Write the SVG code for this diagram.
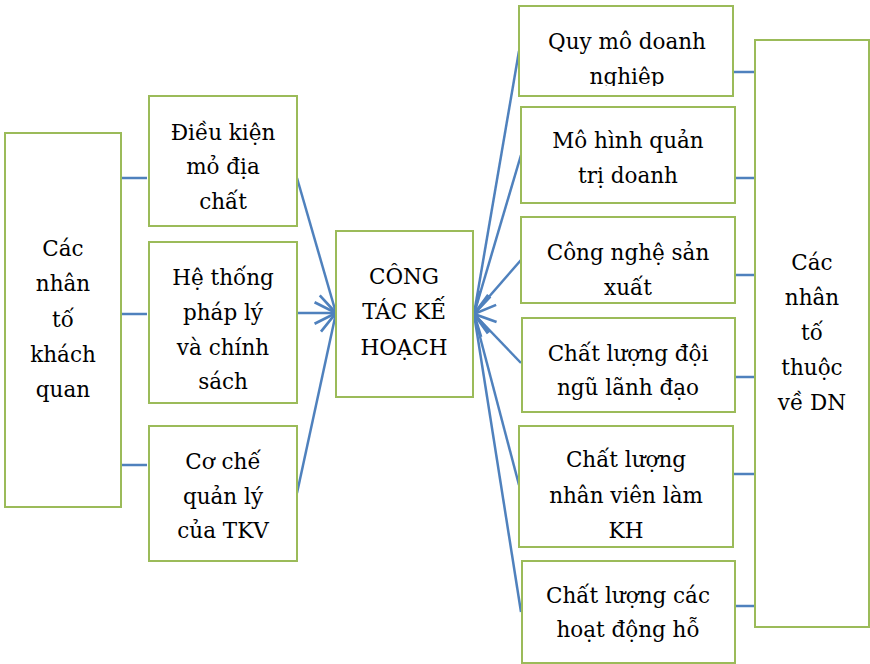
<svg xmlns="http://www.w3.org/2000/svg" width="870" height="664" viewBox="0 0 870 664">
<style>
.box{fill:#fff;stroke:#9BBB59;stroke-width:2}
.t{text-anchor:middle;fill:#000}
.c{stroke:#4F81BD;stroke-width:2.5;fill:none}
</style>
<defs>
<marker id="ah" markerUnits="userSpaceOnUse" markerWidth="30" markerHeight="30" viewBox="-24 -12 28 24" refX="0" refY="0" orient="auto" overflow="visible">
<path d="M-20,-10 L0,0 L-20,10" fill="none" stroke="#4F81BD" stroke-width="2.5"/>
</marker>
<clipPath id="c1"><rect x="519" y="6" width="214" height="80"/></clipPath>
<clipPath id="c3"><rect x="521" y="217" width="214" height="78"/></clipPath>
<clipPath id="c5"><rect x="519" y="426" width="214" height="112"/></clipPath>
</defs>
<rect width="870" height="664" fill="#fff"/>
<g id="connectors">
<line class="c" x1="121" y1="178" x2="147" y2="178"/>
<line class="c" x1="121" y1="314" x2="147" y2="314"/>
<line class="c" x1="121" y1="465" x2="147" y2="465"/>
<line class="c" x1="297" y1="178" x2="336" y2="313" marker-end="url(#ah)"/>
<line class="c" x1="297" y1="313" x2="336" y2="313" marker-end="url(#ah)"/>
<line class="c" x1="297" y1="493" x2="336" y2="313" marker-end="url(#ah)"/>
<line class="c" x1="519" y1="51" x2="474" y2="314" marker-end="url(#ah)"/>
<line class="c" x1="521" y1="155" x2="474" y2="314" marker-end="url(#ah)"/>
<line class="c" x1="521" y1="260" x2="474" y2="314" marker-end="url(#ah)"/>
<line class="c" x1="521" y1="363" x2="474" y2="314" marker-end="url(#ah)"/>
<line class="c" x1="519" y1="485" x2="474" y2="314" marker-end="url(#ah)"/>
<line class="c" x1="521" y1="612" x2="474" y2="314" marker-end="url(#ah)"/>
<line class="c" x1="733" y1="72" x2="755" y2="72"/>
<line class="c" x1="735" y1="178" x2="755" y2="178"/>
<line class="c" x1="735" y1="275" x2="755" y2="275"/>
<line class="c" x1="735" y1="377" x2="755" y2="377"/>
<line class="c" x1="733" y1="474" x2="755" y2="474"/>
<line class="c" x1="735" y1="606" x2="755" y2="606"/>
</g>
<g font-family="DejaVu Serif, serif" font-size="21.5">
<g id="khachquan">
<rect class="box" x="5" y="133" width="116" height="374"/>
<text class="t" x="63" y="256">Các</text>
<text class="t" x="63" y="291">nhân</text>
<text class="t" x="63" y="327">tố</text>
<text class="t" x="63" y="362">khách</text>
<text class="t" x="63" y="397">quan</text>
</g>
<g id="dieukien">
<rect class="box" x="149" y="96" width="148" height="130"/>
<text class="t" x="223" y="140">Điều kiện</text>
<text class="t" x="223" y="174">mỏ địa</text>
<text class="t" x="223" y="209">chất</text>
</g>
<g id="hethong">
<rect class="box" x="149" y="242" width="148" height="161"/>
<text class="t" x="223" y="285">Hệ thống</text>
<text class="t" x="223" y="320">pháp lý</text>
<text class="t" x="223" y="355">và chính</text>
<text class="t" x="223" y="389">sách</text>
</g>
<g id="coche">
<rect class="box" x="149" y="426" width="148" height="135"/>
<text class="t" x="223" y="469">Cơ chế</text>
<text class="t" x="223" y="504">quản lý</text>
<text class="t" x="223" y="538">của TKV</text>
</g>
<g id="congtac">
<rect class="box" x="336" y="231" width="137" height="166"/>
<text class="t" x="404" y="284">CÔNG</text>
<text class="t" x="404" y="319">TÁC KẾ</text>
<text class="t" x="404" y="355">HOẠCH</text>
</g>
<g id="quymo">
<rect class="box" x="519" y="6" width="214" height="90"/>
<g clip-path="url(#c1)">
<text class="t" x="627" y="49">Quy mô doanh</text>
<text class="t" x="627" y="84">nghiệp</text>
</g>
</g>
<g id="mohinh">
<rect class="box" x="521" y="107" width="214" height="96"/>
<text class="t" x="628" y="148">Mô hình quản</text>
<text class="t" x="628" y="183">trị doanh</text>
</g>
<g id="congnghe">
<rect class="box" x="521" y="217" width="214" height="86"/>
<g clip-path="url(#c3)">
<text class="t" x="628" y="260">Công nghệ sản</text>
<text class="t" x="628" y="295">xuất</text>
</g>
</g>
<g id="lanhdao">
<rect class="box" x="522" y="318" width="213" height="94"/>
<text class="t" x="628" y="361">Chất lượng đội</text>
<text class="t" x="628" y="395">ngũ lãnh đạo</text>
</g>
<g id="nhanvien">
<rect class="box" x="519" y="426" width="214" height="121"/>
<g clip-path="url(#c5)">
<text class="t" x="626" y="467">Chất lượng</text>
<text class="t" x="626" y="503">nhân viên làm</text>
<text class="t" x="626" y="538">KH</text>
</g>
</g>
<g id="hotro">
<rect class="box" x="522" y="561" width="213" height="102"/>
<text class="t" x="628" y="603">Chất lượng các</text>
<text class="t" x="628" y="637">hoạt động hỗ</text>
</g>
<g id="noibo">
<rect class="box" x="755" y="40" width="114" height="587"/>
<text class="t" x="812" y="270">Các</text>
<text class="t" x="812" y="305">nhân</text>
<text class="t" x="812" y="340">tố</text>
<text class="t" x="812" y="375">thuộc</text>
<text class="t" x="812" y="410">về DN</text>
</g>
</g>
</svg>
